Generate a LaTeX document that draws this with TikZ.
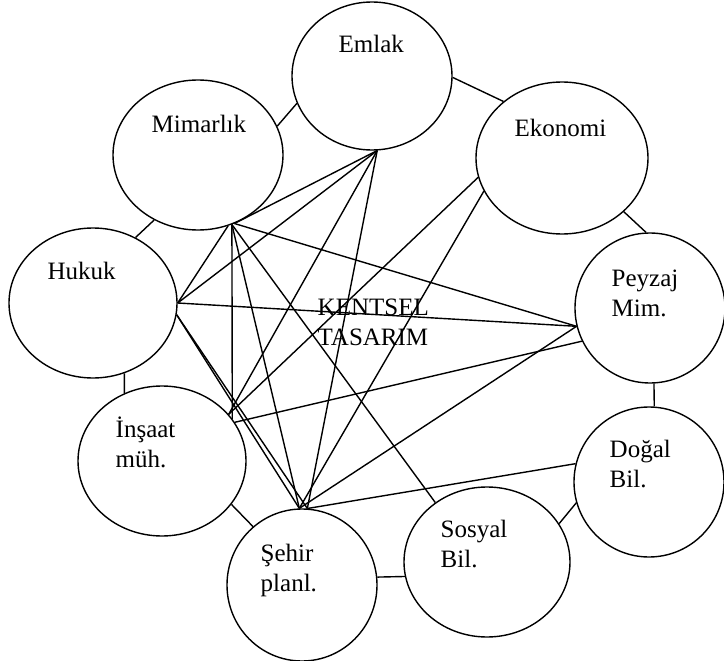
\documentclass[tikz,border=0pt]{standalone}
\usepackage{fontspec}
\setmainfont{Liberation Serif}
\usetikzlibrary{shapes.geometric}

\begin{document}
\begin{tikzpicture}[x=1pt,y=-1pt,line width=1.4pt,
  alan/.style={draw,ellipse,inner sep=0pt},
  yazi/.style={anchor=base west,inner sep=0pt,align=left,
    font=\fontsize{25}{30}\selectfont}
]
\useasboundingbox (0,0) rectangle (724,661);
% daireler
\node[alan,minimum width=160pt,minimum height=148pt] (emlak) at (372,76) {};
\node[alan,minimum width=170pt,minimum height=150pt] (mimarlik) at (198,155) {};
\node[alan,minimum width=172pt,minimum height=152pt] (ekonomi) at (562,158) {};
\node[alan,minimum width=168pt,minimum height=150pt] (hukuk) at (93,303) {};
\node[alan,minimum width=150pt,minimum height=150pt] (peyzaj) at (650,308) {};
\node[alan,minimum width=168pt,minimum height=150pt] (insaat) at (162,461) {};
\node[alan,minimum width=150pt,minimum height=152pt] (sehir) at (302,585) {};
\node[alan,minimum width=166pt,minimum height=150pt] (sosyal) at (487,562) {};
\node[alan,minimum width=150pt,minimum height=150pt] (dogal) at (649,482) {};
% yazilar (iki satirda taban son satirda)
\node[yazi] (emlakt) at (338,53) {Emlak};
\node[yazi] (mimarlikt) at (151,133) {Mimarlık};
\node[yazi] (ekonomit) at (514,136) {Ekonomi};
\node[yazi] (hukukt) at (47,279) {Hukuk};
\node[yazi] (peyzajt) at (611,316) {Peyzaj\\Mim.};
\node[yazi] (insaatt) at (115,467) {İnşaat\\müh.};
\node[yazi] (sehirt) at (260,591) {Şehir\\planl.};
\node[yazi] (sosyalt) at (440,567) {Sosyal\\Bil.};
\node[yazi] (dogalt) at (609,487) {Doğal\\Bil.};
\node[yazi] (kentsel) at (317,345) {KENTSEL\\TASARIM};
% komsu baglar
\draw (mimarlik.20) -- (emlak.200);
\draw (emlak.-1) -- (ekonomi.136);
\draw (ekonomi.-41) -- (peyzaj.93);
\draw (peyzaj.-87) -- (dogal.86);
\draw (dogal.196) -- (sosyal.28);
\draw (sosyal.190) -- (sehir.6);
\draw (sehir.130) -- (insaat.-32);
\draw (insaat.119) -- (hukuk.-66);
\draw (hukuk.57) -- (mimarlik.236);
% ortadaki baglar
\draw (hukuk.0) -- (mimarlik.-67);
\draw (hukuk.0) -- (emlak.-86);
\draw (hukuk.0) -- (peyzaj.194);
\draw (hukuk.-8) -- (sehir.92);
\draw (hukuk.-8) -- (sehir.86);
\draw (mimarlik.-62) -- (emlak.-86);
\draw (mimarlik.-62) -- (peyzaj.194);
\draw (mimarlik.-64) -- (insaat.31);
\draw (mimarlik.-64) -- (sehir.92);
\draw (mimarlik.-64) -- (sosyal.131);
\draw (insaat.35) -- (emlak.-86);
\draw (insaat.35) -- (ekonomi.193);
\draw (insaat.28) -- (peyzaj.206);
\draw (sehir.86) -- (emlak.-86);
\draw (sehir.92) -- (ekonomi.203);
\draw (sehir.92) -- (peyzaj.194);
\draw (sehir.86) -- (dogal.166);
\end{tikzpicture}
\end{document}
